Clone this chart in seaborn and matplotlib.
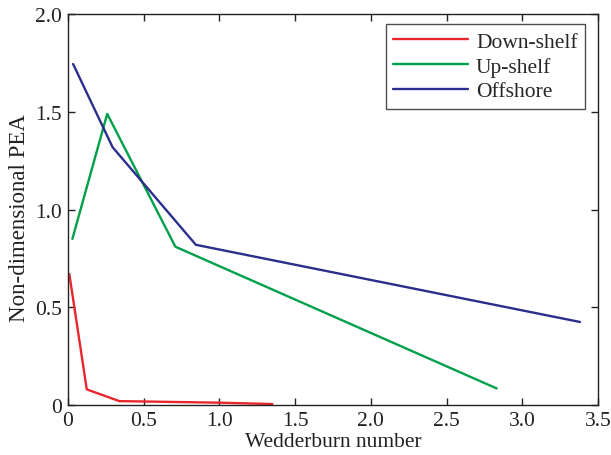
import matplotlib
matplotlib.use("Agg")
import matplotlib.pyplot as plt
import seaborn as sns
import pandas as pd

down_x = [0.01, 0.125, 0.34, 1.0, 1.35]
down_y = [0.67, 0.08, 0.02, 0.012, 0.005]
up_x = [0.03, 0.26, 0.71, 2.83]
up_y = [0.85, 1.49, 0.81, 0.085]
off_x = [0.035, 0.295, 0.845, 3.38]
off_y = [1.745, 1.32, 0.82, 0.425]
series_names = ["Down-shelf", "Up-shelf", "Offshore"]
colors = ["#e8262b", "#00a04b", "#2b2e8c"]
x_ticks = [0, 0.5, 1.0, 1.5, 2.0, 2.5, 3.0, 3.5]
x_tick_labels = ["0", "0.5", "1.0", "1.5", "2.0", "2.5", "3.0", "3.5"]
y_ticks = [0, 0.5, 1.0, 1.5, 2.0]
y_tick_labels = ["0", "0.5", "1.0", "1.5", "2.0"]

df = pd.concat([
    pd.DataFrame({"x": down_x, "y": down_y, "s": series_names[0]}),
    pd.DataFrame({"x": up_x, "y": up_y, "s": series_names[1]}),
    pd.DataFrame({"x": off_x, "y": off_y, "s": series_names[2]}),
], ignore_index=True)

sns.set_style("ticks")
plt.rcParams["font.family"] = ["Liberation Serif", "DejaVu Serif"]

fig = plt.figure(figsize=(6.11, 4.56), dpi=100)
ax = fig.add_axes([0.111, 0.1096, 0.868, 0.857])
sns.lineplot(data=df, x="x", y="y", hue="s", palette=colors, sort=False,
             estimator=None, linewidth=1.7, ax=ax)
ax.set_xlim(0, 3.5)
ax.set_ylim(0, 2.0)
ax.set_xticks(x_ticks)
ax.set_xticklabels(x_tick_labels)
ax.set_yticks(y_ticks)
ax.set_yticklabels(y_tick_labels)
ax.tick_params(direction="in", top=True, right=True, length=5, width=1,
               labelsize=15.5, colors="#222222", pad=4)
for sp in ax.spines.values():
    sp.set_linewidth(1)
    sp.set_color("#222222")
ax.set_xlabel("Wedderburn number", fontsize=15.5, labelpad=2, color="#222222")
ax.set_ylabel("Non-dimensional PEA", fontsize=16.5, color="#222222")
ax.yaxis.set_label_coords(-0.072, 0.48)
leg = ax.legend(title=None, loc="upper right", fontsize=15.5, frameon=True,
                fancybox=False, edgecolor="#222222", borderpad=0.35,
                handlelength=3.5, handletextpad=0.35, labelspacing=0.22,
                borderaxespad=0, bbox_to_anchor=(0.9755, 0.9744))
leg.get_frame().set_linewidth(1)
for line in leg.get_lines():
    line.set_linewidth(1.7)
fig.savefig("out.png", dpi=100)
